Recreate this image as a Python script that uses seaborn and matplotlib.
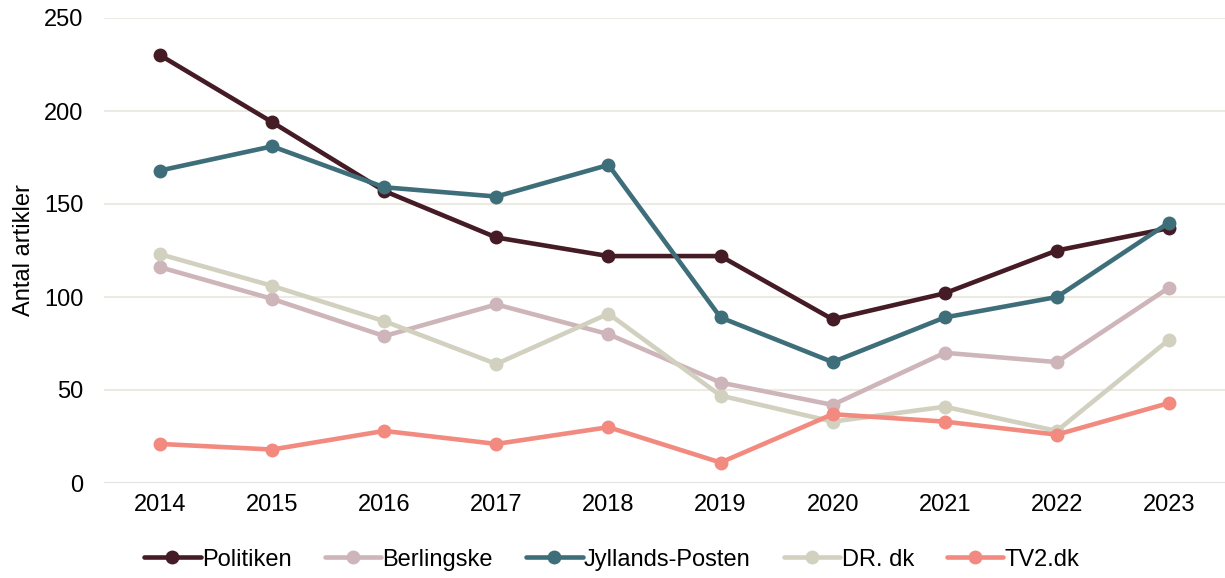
import pandas as pd
import matplotlib.pyplot as plt
import seaborn as sns

# Data
years = [2014, 2015, 2016, 2017, 2018, 2019, 2020, 2021, 2022, 2023]
politiken = [230, 194, 157, 132, 122, 122, 88, 102, 125, 137]
berlingske = [116, 99, 79, 96, 80, 54, 42, 70, 65, 105]
jyllands_posten = [168, 181, 159, 154, 171, 89, 65, 89, 100, 140]
dr_dk = [123, 106, 87, 64, 91, 47, 33, 41, 28, 77]
tv2_dk = [21, 18, 28, 21, 30, 11, 37, 33, 26, 43]

series = {
    'Politiken': politiken,
    'Berlingske': berlingske,
    'Jyllands-Posten': jyllands_posten,
    'DR. dk': dr_dk,
    'TV2.dk': tv2_dk,
}
colors = ['#451b25', '#cdb5ba', '#3e6e79', '#d2d1c0', '#f28a80']

rows = []
for name, vals in series.items():
    for i, v in enumerate(vals):
        rows.append({'pos': i, 'aar': years[i], 'medie': name, 'antal': v})
df = pd.DataFrame(rows)

sns.set_style('white')
plt.rcParams['font.family'] = ['Liberation Sans', 'DejaVu Sans']
plt.rcParams['text.color'] = 'black'

fig = plt.figure(figsize=(12.25, 5.78), dpi=100)
ax = fig.add_axes([104 / 1225, 1 - 483 / 578, 1 - 104 / 1225, (483 - 18) / 578])

sns.lineplot(data=df, x='pos', y='antal', hue='medie', palette=colors,
             marker='o', markersize=10, markeredgewidth=0, linewidth=3.3,
             ax=ax, clip_on=False)

ax.set_xlim(-0.5, 9.5)
ax.set_ylim(0, 250)
ax.set_xticks(range(len(years)))
ax.set_xticklabels([str(y) for y in years])
ax.set_yticks(range(0, 251, 50))
ax.tick_params(axis='both', labelsize=17, length=0, colors='black')
ax.tick_params(axis='x', pad=8)
ax.tick_params(axis='y', pad=15)
for y in range(50, 251, 50):
    ax.axhline(y, color='#ebebe4', linewidth=1.5, zorder=0)
ax.axhline(0, color='#d9d9d9', linewidth=1.8, zorder=0)
sns.despine(ax=ax, left=True, bottom=True, top=True, right=True)

ax.set_xlabel('')
ax.set_ylabel('Antal artikler', fontsize=17, labelpad=6, color='black')

leg = ax.legend(loc='center', bbox_to_anchor=(0.453, -0.165), ncol=5,
                frameon=False, fontsize=17, handlelength=2.4, handletextpad=0.05,
                columnspacing=1.4)
for t in leg.get_texts():
    t.set_color('black')

fig.savefig('out.png', dpi=100)
